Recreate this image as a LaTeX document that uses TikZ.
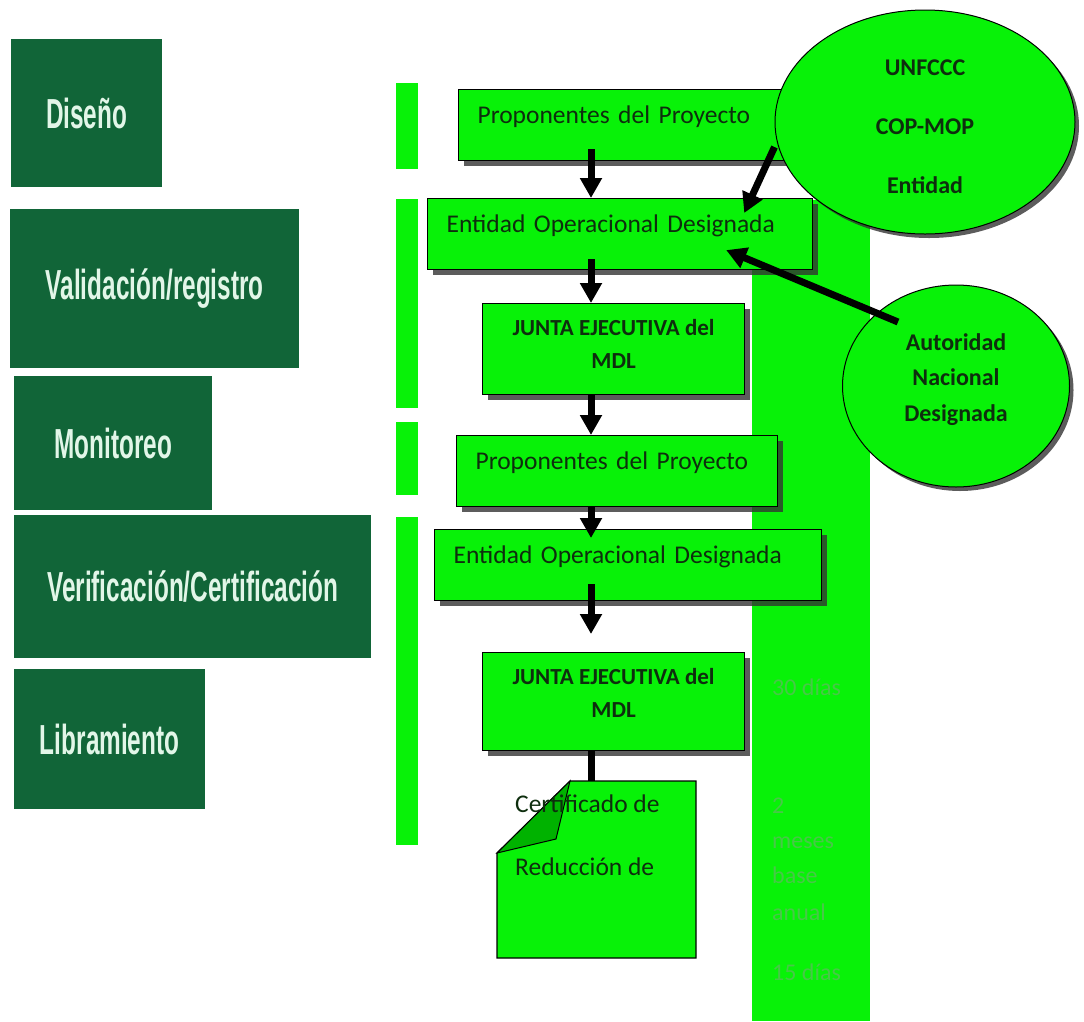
\documentclass[tikz,border=0pt]{standalone}
\usepackage{fontspec}
\setmainfont{Carlito}
\newfontfamily\phasefont{Liberation Sans}
\usepackage{graphicx}
\usetikzlibrary{arrows.meta, positioning, calc, shapes.geometric, shadows}
\definecolor{PhaseGreen}{RGB}{17,101,56}
\definecolor{PhaseText}{RGB}{226,246,232}
\definecolor{FlowGreen}{RGB}{8,242,8}
\definecolor{FoldGreen}{RGB}{0,178,0}
\definecolor{InkGreen}{RGB}{14,46,14}
\definecolor{TermGreen}{RGB}{72,200,72}
\newcommand{\phaselabel}[1]{\scalebox{0.58}[1]{#1}}

\begin{document}
\begin{tikzpicture}[x=1pt, y=-1pt,
  phase/.style={fill=PhaseGreen, text=PhaseText, anchor=north west, inner sep=0pt,
    font=\phasefont\bfseries\fontsize{42}{50}\selectfont},
  flowbox/.style={draw=black, line width=1.2pt, fill=FlowGreen, text=InkGreen, anchor=north west,
    drop shadow={shadow xshift=5pt, shadow yshift=-5pt, fill=black!80, opacity=0.8}},
  procbox/.style={flowbox, align=left, inner xsep=19pt, inner ysep=0pt, text height=34pt, text depth=37pt,
    font=\fontsize{25.5}{30}\selectfont},
  juntabox/.style={flowbox, align=center, minimum width=262pt, inner sep=0pt,
    font=\bfseries\fontsize{23}{33}\selectfont},
  entity/.style={ellipse, draw=black, line width=1pt, fill=FlowGreen, text=InkGreen, inner sep=0pt, align=center,
    drop shadow={shadow xshift=4pt, shadow yshift=-4pt, fill=black!80, opacity=0.8}},
  flowarrow/.style={line width=7pt, -{Triangle[width=21pt, length=20pt]}},
  term/.style={text=TermGreen, anchor=base west, inner sep=0pt, font=\fontsize{24}{30}\selectfont},
  certline/.style={text=InkGreen, anchor=base west, inner sep=0pt, font=\fontsize{25.5}{30}\selectfont}
]
\useasboundingbox (0,0) rectangle (1084,1021);

% phases, left column
\node[phase, minimum width=151pt, minimum height=148pt] (diseno) at (11,39) {\phaselabel{Diseño}};
\node[phase, minimum width=289pt, minimum height=159pt] (valid) at (10,209) {\phaselabel{Validación/registro}};
\node[phase, minimum width=198pt, minimum height=134pt] (monit) at (14,376) {\phaselabel{Monitoreo}};
\node[phase, minimum width=357pt, minimum height=143pt] (verif) at (14,515) {\phaselabel{Verificación/Certificación}};
\node[phase, minimum width=191pt, minimum height=140pt] (libra) at (14,669) {\phaselabel{Libramiento}};

% thin bars next to the flow
\fill[FlowGreen] (396,83) rectangle (418,169);
\fill[FlowGreen] (396,199) rectangle (418,408);
\fill[FlowGreen] (396,422) rectangle (418,495);
\fill[FlowGreen] (396,517) rectangle (418,845);

% time column
\fill[FlowGreen] (752,200) rectangle (870,1021);

% flow boxes (the empty last lines lift the text a little)
\node[procbox, text width=292pt] (prop1) at (458,89) {Proponentes del Proyecto};
\node[procbox, text width=347pt] (ent1) at (427,198) {Entidad Operacional Designada};
\node[juntabox, minimum height=91pt] (junta1) at (482,303) {JUNTA EJECUTIVA del\\MDL\\[-23pt]\mbox{}};
\node[procbox, text width=283pt] (prop2) at (456,435) {Proponentes del Proyecto};
\node[procbox, text width=349pt] (ent2) at (434,529) {Entidad Operacional Designada};
\node[juntabox, minimum height=98pt] (junta2) at (482,652) {JUNTA EJECUTIVA del\\MDL\\[-15pt]\mbox{}};

% certificate sheet with folded corner
\coordinate (certtop) at (591,781);
\filldraw[draw=black, line width=1.2pt, fill=FlowGreen] (570,781) -- (696,781) -- (696,958) -- (497,958) -- (497,853) -- cycle;
\filldraw[draw=black, line width=1pt, fill=FoldGreen] (570,781) -- (556,839) -- (497,853) -- cycle;
\node[certline] (cert1) at (515,812) {Certificado de};
\node[certline] (cert2) at (515,875) {Reducción de};

% outside bodies
\node[entity, minimum width=300pt, minimum height=224pt, font=\bfseries\fontsize{24}{59}\selectfont] (unfccc) at (925,122)
  {\mbox{}\\[-33.5pt]UNFCCC\\COP-MOP\\Entidad};
\node[entity, minimum width=227pt, minimum height=202pt, font=\bfseries\fontsize{24}{35.5}\selectfont] (anda) at (956,386)
  {Autoridad\\Nacional\\Designada\\[-18.5pt]\mbox{}};

% arrows
\coordinate (spine) at (591,0);
\draw[flowarrow] ([yshift=12pt]spine |- prop1.south) -- (spine |- ent1.north);
\draw[flowarrow] ([yshift=11pt]spine |- ent1.south) -- (spine |- junta1.north);
\draw[flowarrow] (spine |- junta1.south) -- (spine |- prop2.north);
\draw[flowarrow] (spine |- prop2.south) -- ([yshift=-9pt]spine |- ent2.north);
\draw[flowarrow] ([yshift=17pt]spine |- ent2.south) -- ([yshift=18pt]spine |- junta2.north);
\draw[line width=7pt] (spine |- junta2.south) -- (certtop);
\draw[flowarrow] ([yshift=-25pt]unfccc.west) -- ([xshift=-69pt, yshift=-15pt]ent1.north east);
\draw[flowarrow] ([xshift=-58pt, yshift=64pt]anda.center) -- ([xshift=-87pt, yshift=-16pt]ent1.east);

% durations
\node[term] (plazo30) at (772,695) {30 días};
\foreach \txt/\yy [count=\i] in {2/813, meses/848, base/883, anual/920}
  \node[term] (plazo\i) at (772,\yy) {\txt};
\node[term] (plazo15) at (772,980) {15 días};
\end{tikzpicture}
\end{document}
